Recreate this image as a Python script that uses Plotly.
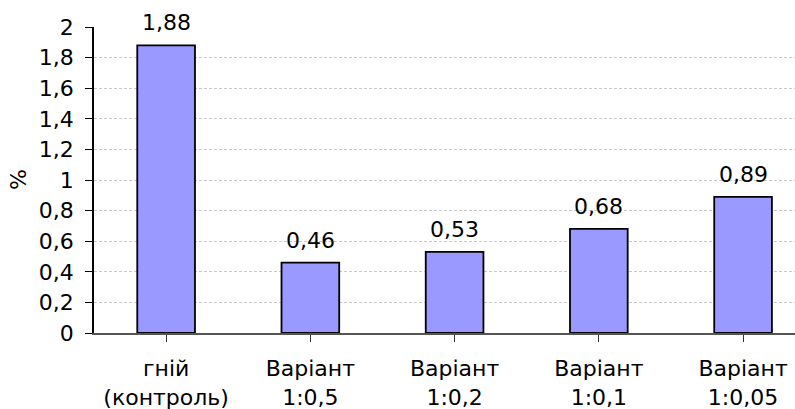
import plotly.graph_objects as go

# Categories and measured values (%)
categories = ["гній<br>(контроль)", "Варіант<br>1:0,5", "Варіант<br>1:0,2",
              "Варіант<br>1:0,1", "Варіант<br>1:0,05"]
values = [1.88, 0.46, 0.53, 0.68, 0.89]
value_labels = ["1,88", "0,46", "0,53", "0,68", "0,89"]
y_ticks = [0, 0.2, 0.4, 0.6, 0.8, 1, 1.2, 1.4, 1.6, 1.8, 2]
y_tick_labels = ["0", "0,2", "0,4", "0,6", "0,8", "1", "1,2", "1,4", "1,6", "1,8", "2"]

FONT = "DejaVu Sans"
FSIZE = 22

xs = list(range(len(categories)))

fig = go.Figure(
    go.Bar(
        x=xs,
        y=values,
        width=0.4,
        marker=dict(color="#9999FF", line=dict(color="#000000", width=1.8)),
        cliponaxis=False,
    )
)

# value labels above each bar
for x, v, lab in zip(xs, values, value_labels):
    fig.add_annotation(
        x=x, y=v, text=lab, showarrow=False,
        xanchor="center", yanchor="bottom", yshift=8,
        font=dict(family=FONT, size=FSIZE, color="#000000"),
    )

# y-axis title, rotated, left of the tick labels
fig.add_annotation(
    xref="paper", yref="paper", x=0, y=0.5, xshift=-76,
    text="%", textangle=-90, showarrow=False,
    xanchor="center", yanchor="middle",
    font=dict(family=FONT, size=FSIZE, color="#000000"),
)

fig.update_layout(
    width=795,
    height=409,
    margin=dict(l=94, r=0, t=27, b=76),
    paper_bgcolor="white",
    plot_bgcolor="white",
    showlegend=False,
    font=dict(family=FONT, size=FSIZE, color="#000000"),
    xaxis=dict(
        range=[-0.5, 4.36],
        tickmode="array",
        tickvals=xs,
        ticktext=categories,
        tickson="boundaries",
        ticks="outside",
        ticklen=7,
        tickcolor="#333333",
        showgrid=False,
        showline=True,
        linecolor="#555555",
        linewidth=1.5,
        zeroline=False,
        tickfont=dict(family=FONT, size=FSIZE),
        ticklabelstandoff=8,
    ),
    yaxis=dict(
        range=[0, 2],
        tickmode="array",
        tickvals=y_ticks,
        ticktext=[t + "\u00a0" for t in y_tick_labels],
        ticks="outside",
        ticklen=7,
        tickcolor="#000000",
        showline=True,
        linecolor="#000000",
        linewidth=1.5,
        showgrid=True,
        gridcolor="#c8c8c8",
        gridwidth=1,
        griddash="3px,2px",
        zeroline=False,
        tickfont=dict(family=FONT, size=FSIZE),
    ),
)

fig.write_html("out.html")
